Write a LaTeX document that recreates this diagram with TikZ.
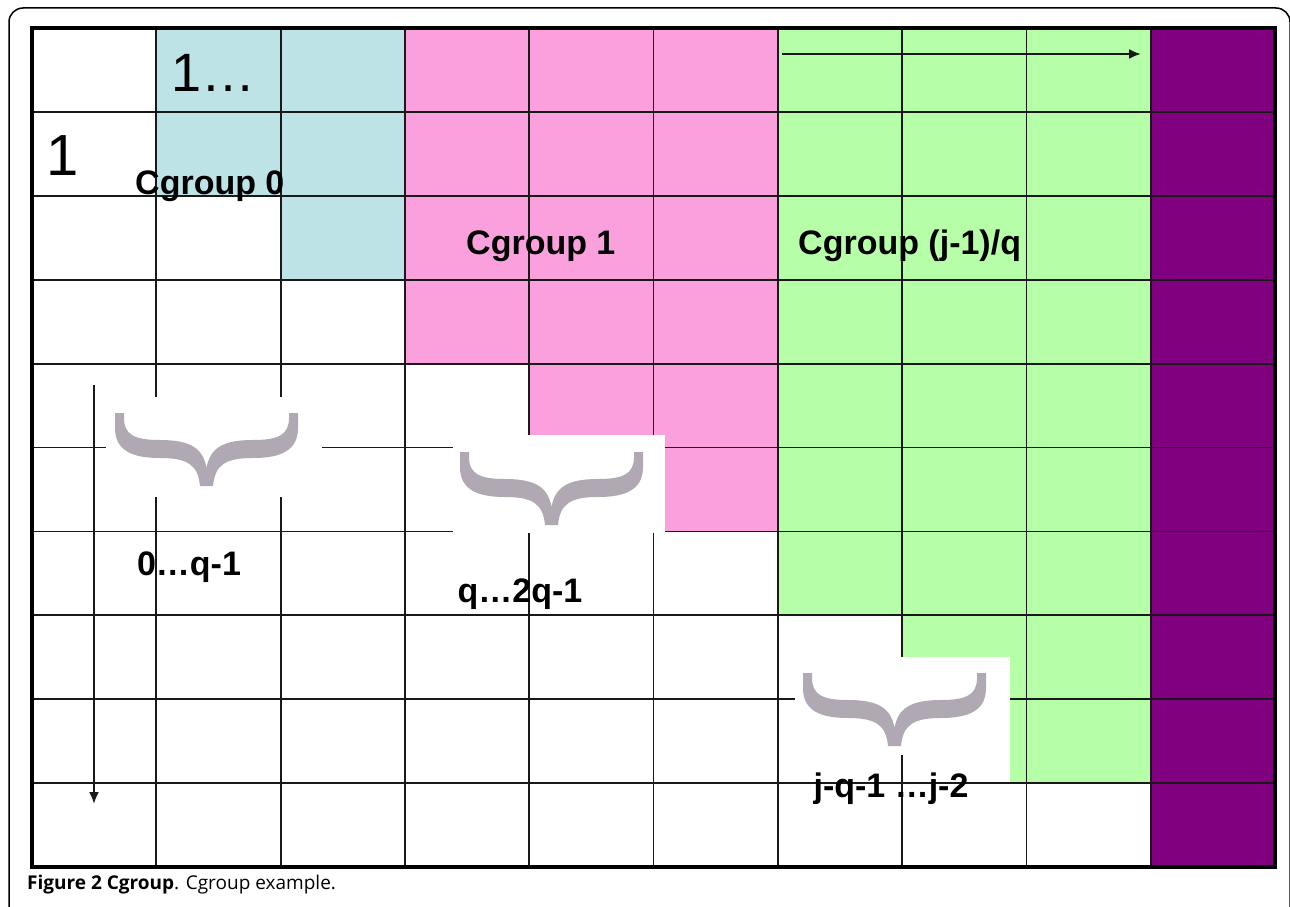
\documentclass[tikz,border=0pt]{standalone}
\usepackage{fontspec}
\setmainfont{Liberation Sans}
\newfontfamily\capfont{Open Sans}
\usetikzlibrary{arrows.meta}
\definecolor{cblue}{RGB}{189,227,231}
\definecolor{cpink}{RGB}{250,160,220}
\definecolor{cgreen}{RGB}{182,255,168}
\definecolor{cpurple}{RGB}{128,0,128}
\definecolor{bracegray}{RGB}{176,168,178}
\definecolor{gridc}{RGB}{25,25,25}
\tikzset{
  gridline/.style={draw=gridc,line width=1.8pt},
  lbl/.style={font=\fontsize{34}{40}\selectfont\bfseries,inner sep=0pt,anchor=base west},
  numlbl/.style={font=\fontsize{34}{40}\selectfont\bfseries,inner sep=0pt,anchor=base},
  bignum/.style={font=\fontsize{#1}{#1}\selectfont,inner sep=0pt,anchor=base west},
  whitebox/.style={fill=white,draw=none},
  flowarrow/.style={draw=gridc,line width=2.2pt,-{Latex[length=12pt,width=10pt]}},
  bracepic/.pic={
    \fill[bracegray] (0,0) -- (9,0) -- (9,5)
      .. controls (9,22) and (20,27) .. (45,27)
      .. controls (75,27) and (88,35) .. (91.5,55)
      .. controls (95,35) and (108,27) .. (138,27)
      .. controls (163,27) and (174,22) .. (174,5)
      -- (174,0) -- (183,0) -- (183,15)
      .. controls (183,38) and (165,45) .. (138,45)
      .. controls (110,45) and (100,52) .. (98,73)
      -- (85,73)
      .. controls (83,52) and (73,45) .. (45,45)
      .. controls (18,45) and (0,38) .. (0,15) -- cycle;
  }
}
\begin{document}
\begin{tikzpicture}[x=1pt,y=-1pt]
\useasboundingbox (0,0) rectangle (1290,907);
\clip (0,0) rectangle (1290,907);
\fill[white] (0,0) rectangle (1290,907);
% outer frame
\draw[line width=1.5pt,rounded corners=14pt] (9,960) -- (9,8) -- (1290,8) -- (1290,960);
% grid fills
\begin{scope}[shift={(32,28)},x=124.3pt,y=-83.9pt]
  \fill[cblue] (1,0) rectangle (2,2);
  \fill[cblue] (2,0) rectangle (3,3);
  \fill[cpink] (3,0) rectangle (4,4);
  \fill[cpink] (4,0) rectangle (6,6);
  \fill[cgreen] (6,0) rectangle (7,7);
  \fill[cgreen] (7,0) rectangle (9,9);
  \fill[cpurple] (9,0) rectangle (10,10);
  \foreach \i in {1,...,9} {
    \draw[gridline] (\i,0) -- (\i,10);
    \draw[gridline] (0,\i) -- (10,\i);
  }
  \draw[draw=black,line width=4pt] (0,0) rectangle (10,10);
\end{scope}
% white boxes behind braces
\fill[whitebox] (106,397) rectangle (322,497);
\fill[whitebox] (453,435) rectangle (665,533);
\fill[whitebox] (795,657) rectangle (1010,782);
\draw[gridline] (902.3,755) -- (902.3,784);
% braces
\pic at (115,413) {bracepic};
\pic at (460,452) {bracepic};
\pic at (803,673) {bracepic};
% labels
\node[bignum=54] (n1a) at (171,92) {1…};
\node[bignum=58] (n1b) at (46,175) {1};
\node[lbl] (cg0) at (135,194) {Cgroup 0};
\node[lbl] (cg1) at (466,254) {Cgroup 1};
\node[lbl] (cgj) at (798,254) {Cgroup (j-1)/q};
\node[numlbl] (r0) at (189,575) {0…q-1};
\node[numlbl] (r1) at (520,602) {q…2q-1};
\node[numlbl] (r2) at (891,797) {j-q-1 …j-2};
% arrows
\coordinate (ha) at (782,54);
\coordinate (hb) at (1141,54);
\coordinate (va) at (94,385);
\coordinate (vb) at (94,804);
\draw[flowarrow] (ha) -- (hb);
\draw[flowarrow] (va) -- (vb);
% caption
\node[inner sep=0pt,anchor=base west,font=\capfont\fontsize{19}{21}\selectfont] (cap) at (27,889)
  {\textbf{Figure 2 Cgroup}. Cgroup example.};
\end{tikzpicture}
\end{document}
